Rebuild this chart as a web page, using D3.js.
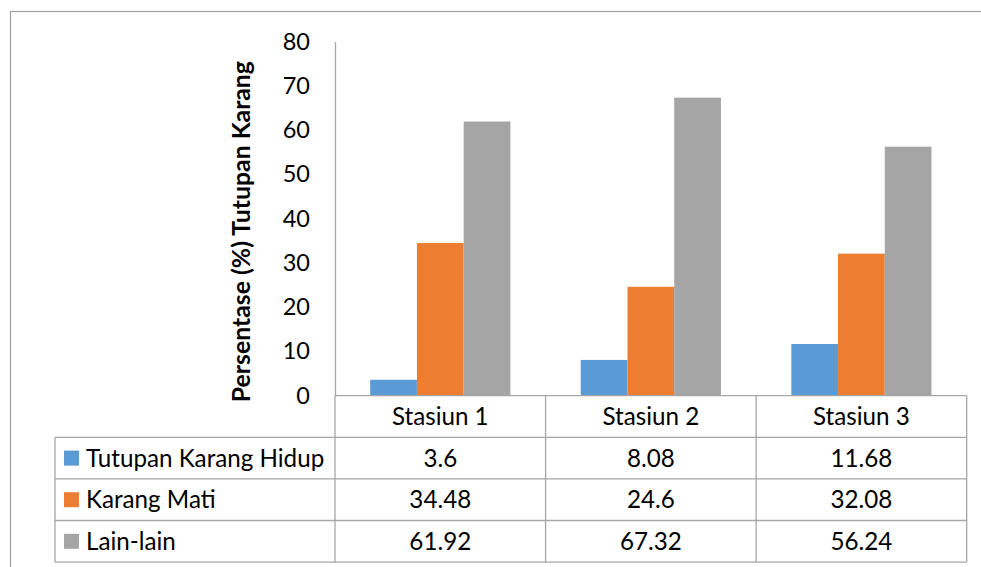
<!DOCTYPE html>
<html>
<head>
<meta charset="utf-8">
<script src="https://cdn.jsdelivr.net/npm/d3@7"></script>
<style>
  html, body { margin: 0; padding: 0; background: #fff; }
  svg { display: block; font-family: Lato, "Open Sans", sans-serif; }
</style>
</head>
<body>
<svg id="chart" width="981" height="567"></svg>
<script>
// ---- data ----
const categories = ["Stasiun 1", "Stasiun 2", "Stasiun 3"];
const seriesNames = ["Tutupan Karang Hidup", "Karang Mati", "Lain-lain"];
const hidup = [3.6, 8.08, 11.68];
const mati = [34.48, 24.6, 32.08];
const lain = [61.92, 67.32, 56.24];
const tableLabels = [["3.6", "8.08", "11.68"], ["34.48", "24.6", "32.08"], ["61.92", "67.32", "56.24"]];
const yTicks = [0, 10, 20, 30, 40, 50, 60, 70, 80];
const yTitle = "Persentase (%) Tutupan Karang";
const colors = ["#5B9BD5", "#ED7D31", "#A5A5A5"];

const series = [hidup, mati, lain];

// ---- layout ----
const svg = d3.select("#chart");
const plotLeft = 335, plotRight = 966.7, plotTop = 41.5, plotBottom = 395.7;
const tableLeft = 55, rowH = 41.6;
const fontSize = 24.2;
const lineColor = "#A6A6A6";

// outer chart border (top and left visible)
svg.append("rect").attr("x", 10.5).attr("y", 11.5).attr("width", 1000).attr("height", 600)
  .attr("fill", "none").attr("stroke", "#A0A0A0").attr("stroke-width", 1.2);

const x0 = d3.scaleBand().domain(categories).range([plotLeft, plotRight]).paddingInner(0).paddingOuter(0);
const groupPad = 35.2 / x0.bandwidth();
const x1 = d3.scaleBand().domain(seriesNames).range([x0.bandwidth() * groupPad, x0.bandwidth() * (1 - groupPad)]);
const y = d3.scaleLinear().domain([0, 80]).range([plotBottom, plotTop]);

// bars
const g = svg.append("g");
categories.forEach((c, ci) => {
  seriesNames.forEach((s, si) => {
    const v = series[si][ci];
    g.append("rect")
      .attr("x", x0(c) + x1(s))
      .attr("y", y(v))
      .attr("width", x1.bandwidth())
      .attr("height", y(0) - y(v))
      .attr("fill", colors[si]);
  });
});

// y axis
const yAxis = d3.axisLeft(y).tickValues(yTicks).tickSize(0).tickPadding(25);
const ya = svg.append("g").attr("transform", `translate(${plotLeft},0)`).call(yAxis);
ya.select(".domain").attr("stroke", lineColor).attr("stroke-width", 1.3);
ya.selectAll("text").attr("font-size", 23.5).attr("fill", "#000")
  .attr("font-family", "Lato, 'Open Sans', sans-serif");

// y title
svg.append("text")
  .attr("transform", `translate(250,${(y(80) + y(0)) / 2 + 13}) rotate(-90)`)
  .attr("text-anchor", "middle")
  .attr("font-size", 24.8).attr("font-weight", "bold").attr("fill", "#000")
  .text(yTitle);

// ---- data table ----
const tableTop = plotBottom + rowH; // first data row top
const tableBottom = tableTop + rowH * 3;
const tg = svg.append("g").attr("stroke", lineColor).attr("stroke-width", 1.3).attr("fill", "none");
// header row horizontal line (axis)
tg.append("line").attr("x1", plotLeft).attr("x2", plotRight).attr("y1", plotBottom).attr("y2", plotBottom);
// row lines
for (let r = 0; r <= 3; r++) {
  const yy = tableTop + r * rowH;
  tg.append("line").attr("x1", tableLeft).attr("x2", plotRight).attr("y1", yy).attr("y2", yy);
}
// vertical lines
tg.append("line").attr("x1", tableLeft).attr("x2", tableLeft).attr("y1", tableTop).attr("y2", tableBottom);
[plotLeft, ...categories.map(c => x0(c) + x0.bandwidth())].forEach(xx => {
  tg.append("line").attr("x1", xx).attr("x2", xx).attr("y1", plotBottom).attr("y2", tableBottom);
});

// header labels
categories.forEach(c => {
  svg.append("text")
    .attr("x", x0(c) + x0.bandwidth() / 2).attr("y", plotBottom + rowH / 2)
    .attr("dy", "0.35em").attr("text-anchor", "middle")
    .attr("font-size", fontSize).attr("fill", "#000").text(c);
});

// rows
seriesNames.forEach((s, si) => {
  const cy = tableTop + rowH * si + rowH / 2;
  svg.append("rect").attr("x", 64).attr("y", cy - 7.5).attr("width", 15).attr("height", 15).attr("fill", colors[si]);
  svg.append("text").attr("x", 86).attr("y", cy).attr("dy", "0.35em")
    .attr("font-size", fontSize).attr("fill", "#000").text(s);
  categories.forEach((c, ci) => {
    svg.append("text")
      .attr("x", x0(c) + x0.bandwidth() / 2).attr("y", cy).attr("dy", "0.35em")
      .attr("text-anchor", "middle").attr("font-size", fontSize).attr("fill", "#000")
      .text(tableLabels[si][ci]);
  });
});
</script>
</body>
</html>
